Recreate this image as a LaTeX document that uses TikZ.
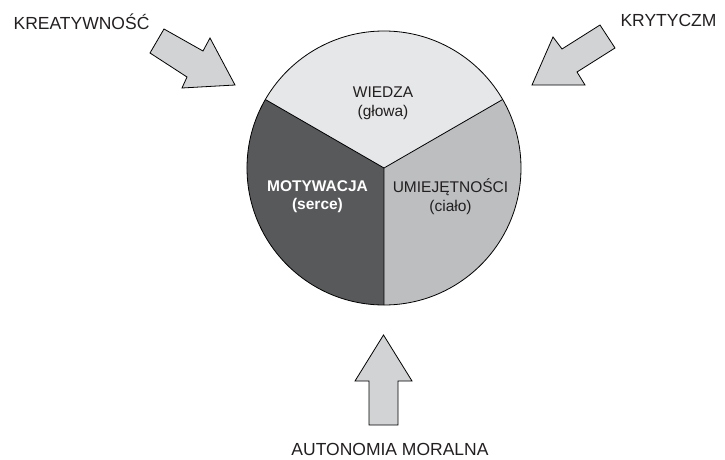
\documentclass[tikz,border=0pt]{standalone}
\usepackage{fontspec}
\setmainfont{Liberation Sans}
\usetikzlibrary{positioning}
\definecolor{wiedzaColor}{HTML}{E6E7E8}
\definecolor{motywacjaColor}{HTML}{58595B}
\definecolor{umiejetnosciColor}{HTML}{BCBEC0}
\definecolor{arrowColor}{HTML}{D1D3D4}
\definecolor{textColor}{HTML}{231F20}

\begin{document}
\begin{tikzpicture}[x = 1pt, y = 1pt,
        blockArrow/.style = {draw = black, fill = arrowColor, line width = 0.8pt, line join = miter},
        outerLabel/.style = {anchor = base, inner sep = 0pt, color = textColor, font = \fontsize{17.5}{21}\selectfont},
        innerLabel/.style = {align = center, inner sep = 0pt, font = \fontsize{15.5}{18.5}\selectfont}]
        \useasboundingbox (0, 0) rectangle (725, 459);
        \coordinate (center) at (384, 291);

        \fill[color = wiedzaColor] (center) -- ++(30:137) arc (30:150:137) -- cycle;
        \fill[color = motywacjaColor] (center) -- ++(150:137) arc (150:270:137) -- cycle;
        \fill[color = umiejetnosciColor] (center) -- ++(270:137) arc (270:390:137) -- cycle;
        \draw[line width = 0.8pt] (center) circle (137);
        \draw[line width = 0.8pt] (center) -- ++(30:137) (center) -- ++(150:137) (center) -- ++(270:137);

        \node[innerLabel, color = textColor] (wiedzaNode) at (383, 355.5) {WIEDZA\\(głowa)};
        \node[innerLabel, color = white, font = \fontsize{15.5}{18.5}\selectfont\bfseries] (motywacjaNode) at (317.5, 262.5) {MOTYWACJA\\(serce)};
        \node[innerLabel, color = textColor] (umiejetnosciNode) at (450.5, 262.5) {UMIEJĘTNOŚCI\\(ciało)};

        \draw[blockArrow] (164, 430) -- (203, 408) -- (210, 421) -- (235, 374) -- (182, 371) -- (187, 382) -- (150, 406) -- cycle;
        \draw[blockArrow] (600, 434) -- (562, 410) -- (553, 422) -- (532, 374) -- (585, 374) -- (577, 387) -- (615, 411) -- cycle;
        \draw[blockArrow] (383.5, 124) -- (412, 78) -- (398, 78) -- (398, 34) -- (369, 34) -- (369, 78) -- (355, 78) -- cycle;

        \node[outerLabel] (kreatywnoscNode) at (81.5, 429) {KREATYWNOŚĆ};
        \node[outerLabel] (krytycyzmNode) at (668.5, 432) {KRYTYCZM};
        \node[outerLabel] (autonomiaNode) at (390, 3.5) {AUTONOMIA MORALNA};
\end{tikzpicture}
\end{document}
